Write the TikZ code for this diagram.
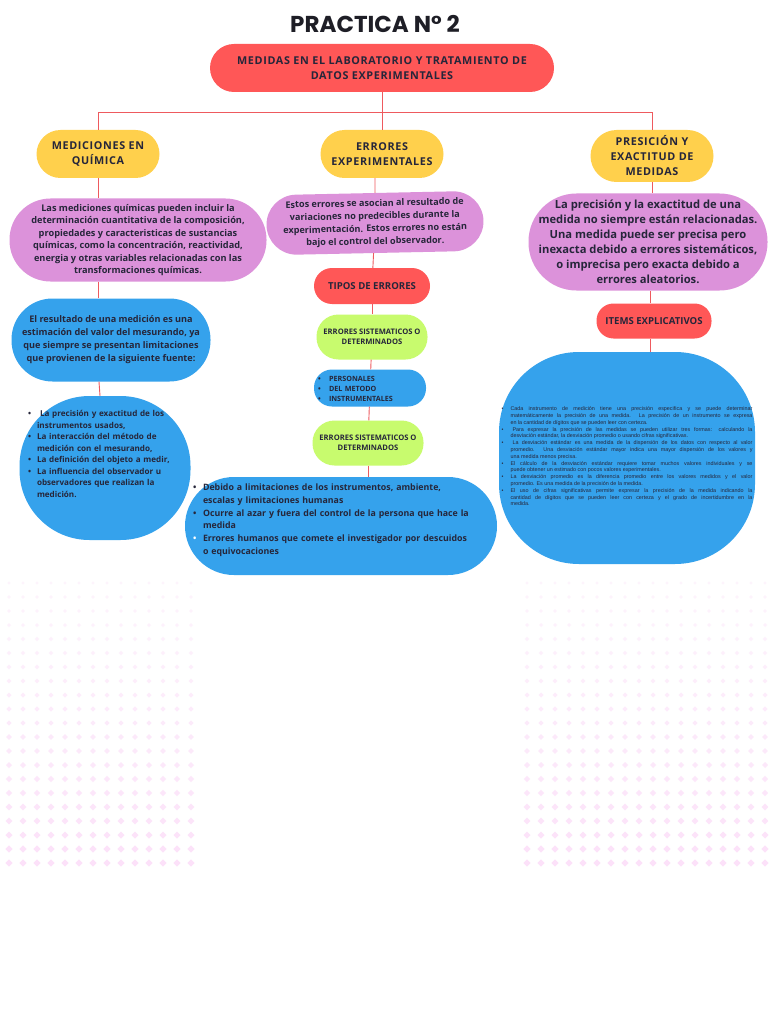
\documentclass[tikz,border=0pt]{standalone}
\usepackage{fontspec}
\setmainfont{Open Sans}
\newfontfamily\headfont[LetterSpace=6]{Open Sans}
\newfontfamily\titlefont{Poppins}
\newfontfamily\notefont{Liberation Sans}
\usetikzlibrary{positioning}

\definecolor{ink}{HTML}{26263A}
\definecolor{titleink}{HTML}{1E1E26}
\definecolor{redfill}{HTML}{FF5757}
\definecolor{yellowfill}{HTML}{FFD04C}
\definecolor{pinkfill}{HTML}{DC92DA}
\definecolor{bluefill}{HTML}{35A2EC}
\definecolor{greenfill}{HTML}{C8FB6E}
\definecolor{linkred}{HTML}{EE5A5E}
\definecolor{dotpink}{HTML}{FCE1F9}

\newcommand{\fsz}[2]{\fontsize{#1}{#2}\selectfont}
\newlength\bhang
\newcommand{\blistfmt}{\raggedright}
\newcommand{\bitem}[2][ink]{\par\noindent\lineskip=0pt\makebox[\bhang][l]{\strut\textcolor{#1}{\textbullet}}%
  \parbox[t]{\dimexpr\hsize-\bhang\relax}{\blistfmt\strut #2\strut}\par}

\begin{document}
\begin{tikzpicture}[x=1pt, y=-1pt,
  pill/.style={rectangle, align=center, text=ink, inner sep=2pt},
  redbox/.style={pill, fill=redfill},
  yellowbox/.style={pill, fill=yellowfill, minimum width=123pt, minimum height=48pt, rounded corners=24pt, font=\headfont\bfseries\fsz{10.8}{15}},
  pinkbox/.style={pill, fill=pinkfill},
  bluebox/.style={pill, fill=bluefill},
  greenbox/.style={pill, fill=greenfill, minimum width=111pt, minimum height=45pt, rounded corners=22pt, font=\bfseries\fsz{7.6}{10}},
  listtext/.style={text=ink, align=left, inner sep=0pt},
  link/.style={draw=linkred, line width=0.9pt}
]
\useasboundingbox (0,0) rectangle (768,1024);
\fill[white] (0,0) rectangle (768,1024);

% dotted background
\foreach \r in {0,...,20}{
  \pgfmathsetmacro\s{1.7+0.1*\r}
  \pgfmathsetmacro\o{0.35+0.032*\r}
  \foreach \c in {0,...,13}
    \fill[dotpink, opacity=\o] ({9+14*\c},{583+14*\r}) +(0,-\s) -- +(\s,0) -- +(0,\s) -- +(-\s,0) -- cycle;
  \foreach \c in {0,...,17}
    \fill[dotpink, opacity=\o] ({527+14*\c},{583+14*\r}) +(0,-\s) -- +(\s,0) -- +(0,\s) -- +(-\s,0) -- cycle;
}

% title and main topic
\node[text=titleink, font=\titlefont\bfseries\fsz{23}{27}] (title) at (375,24) {PRACTICA N° 2};
\node[redbox, minimum width=344pt, minimum height=48pt, rounded corners=24pt, font=\headfont\bfseries\fsz{10.8}{15}] (main) at (382,68)
  {MEDIDAS EN EL LABORATORIO Y TRATAMIENTO DE\\DATOS EXPERIMENTALES};

% three branches
\node[yellowbox] (quim) at (98,154) {MEDICIONES EN\\QUÍMICA};
\node[yellowbox] (err) at (382,154) {ERRORES\\EXPERIMENTALES};
\node[yellowbox, minimum height=52pt, rounded corners=26pt] (prec) at (652,156) {PRESICIÓN Y\\EXACTITUD DE\\MEDIDAS};

% left column
\node[pinkbox, minimum width=257pt, minimum height=83pt, rounded corners=41pt, font=\bfseries\fsz{9.2}{12.4}] (quimtxt) at (138,240)
  {Las mediciones químicas pueden incluir la\\determinación cuantitativa de la composición,\\propiedades y caracteristicas de sustancias\\químicas, como la concentración, reactividad,\\energia y otras variables relacionadas con las\\transformaciones químicas.};
\node[bluebox, minimum width=199pt, minimum height=83pt, rounded corners=41pt, font=\bfseries\fsz{9.1}{13}] (fuente) at (111,340)
  {El resultado de una medición es una\\estimación del valor del mesurando, ya\\que siempre se presentan limitaciones\\que provienen de la siguiente fuente:};
\node[bluebox, minimum width=171pt, minimum height=144pt, rounded corners=70pt] (fuentes) at (105,468) {};
\node[listtext, text width=150pt, font=\bfseries\fsz{8.1}{11.5}] (fuentes-t) at (103,453)
  {\setlength\bhang{9pt}%
   \bitem{\hspace{3pt}La precisión y exactitud de los\\instrumentos usados,}
   \bitem{La interacción del método de\\medición con el mesurando,}
   \bitem{La definición del objeto a medir,}
   \bitem{La influencia del observador u\\observadores que realizan la\\medición.}};

% middle column
\node[pinkbox, minimum width=217pt, minimum height=60pt, rounded corners=30pt, rotate=1.2, font=\bfseries\fsz{9.1}{12.7}] (errtxt) at (375,223)
  {Estos errores se asocian al resultado de\\variaciones no predecibles durante la\\experimentación. Estos errores no están\\bajo el control del observador.};
\node[redbox, minimum width=116pt, minimum height=36pt, rounded corners=18pt, font=\bfseries\fsz{9.6}{11}] (tipos) at (372,286) {TIPOS DE ERRORES};
\node[greenbox] (sist1) at (372,337) {ERRORES SISTEMATICOS O\\DETERMINADOS};
\node[bluebox, minimum width=112pt, minimum height=36pt, rounded corners=18pt, text width=104pt, align=left, font=\bfseries\fsz{7.2}{10}] (clases) at (370,388)
  {\setlength\bhang{11pt}%
   \bitem{PERSONALES}
   \bitem{DEL METODO}
   \bitem{INSTRUMENTALES}};
\node[greenbox] (sist2) at (368,443) {ERRORES SISTEMATICOS O\\DETERMINADOS};
\node[bluebox, minimum width=312pt, minimum height=98pt, rounded corners=49pt] (errlist) at (341,526) {};
\node[listtext, text width=302pt, font=\bfseries\fsz{8.8}{12.8}] (errlist-t) at (344,518)
  {\setlength\bhang{10pt}%
   \bitem{Debido a limitaciones de los instrumentos, ambiente,\\escalas y limitaciones humanas}
   \bitem{Ocurre al azar y fuera del control de la persona que hace la\\medida}
   \bitem[white]{Errores humanos que comete el investigador por descuidos\\o equivocaciones}};

% right column
\node[pinkbox, minimum width=239pt, minimum height=97pt, rounded corners=48pt, font=\bfseries\fsz{11.2}{15}] (prectxt) at (648,242)
  {La precisión y la exactitud de una\\medida no siempre están relacionadas.\\Una medida puede ser precisa pero\\inexacta debido a errores sistemáticos,\\o imprecisa pero exacta debido a\\errores aleatorios.};
\node[redbox, minimum width=115pt, minimum height=35pt, rounded corners=17pt, font=\bfseries\fsz{9.6}{11}] (items) at (654,321) {ITEMS EXPLICATIVOS};
\node[bluebox, minimum width=256pt, minimum height=212pt, rounded corners=80pt] (notas) at (627,458) {};
\node[listtext, text width=251pt, align=justify, font=\notefont\fsz{5.4}{6.8}] (notas-t) at (627,456)
  {\setlength\bhang{9pt}\let\blistfmt\relax
   \bitem{Cada instrumento de medición tiene una precisión especifica y se puede determinar\linebreak matemáticamente la precisión de una medida. La precisión de un instrumento se expresa\linebreak en la cantidad de dígitos que se pueden leer con certeza.}
   \bitem{\hspace{2pt}Para expresar la precisión de las medidas se pueden utilizar tres formas: calculando la\linebreak desviación estándar, la desviación promedio o usando cifras significativas.}
   \bitem{\hspace{2pt}La desviación estándar es una medida de la dispersión de los datos con respecto al valor\linebreak promedio. Una desviación estándar mayor indica una mayor dispersión de los valores y\linebreak una medida menos precisa.}
   \bitem{El cálculo de la desviación estándar requiere tomar muchos valores individuales y se\linebreak puede obtener un estimado con pocos valores experimentales.}
   \bitem{La desviación promedio es la diferencia promedio entre los valores medidos y el valor\linebreak promedio. Es una medida de la precisión de la medida.}
   \bitem{El uso de cifras significativas permite expresar la precisión de la medida indicando la\linebreak cantidad de dígitos que se pueden leer con certeza y el grado de incertidumbre en la\linebreak medida.}};

% connectors
\coordinate (hub) at (382,112);
\draw[link] (main) -- (hub);
\draw[link] (hub) -| (quim.north);
\draw[link] (hub) -- (err);
\draw[link] (hub) -| (prec.north);
\draw[link] (quim) -- (quim |- quimtxt.north);
\draw[link] (quim |- quimtxt.south) -- (quim |- fuente.north);
\draw[link] ([xshift=1pt]quim |- fuente.south) -- ([xshift=2pt]quim |- fuentes.north);
\draw[link] (errtxt) -- (errtxt |- err.south);
\draw[link] (errtxt) -- (tipos);
\draw[link] (tipos) -- (sist1);
\draw[link] (sist1) -- (clases);
\draw[link] (clases) -- (sist2);
\draw[link] (sist2) -- (sist2 |- errlist.north);
\draw[link] (prec) -- (prec |- prectxt.north);
\draw[link] (items.north -| 650,0) -- (prectxt.south -| 650,0);
\draw[link] (items.south -| 650,0) -- (notas.north -| 650,0);
\end{tikzpicture}
\end{document}
